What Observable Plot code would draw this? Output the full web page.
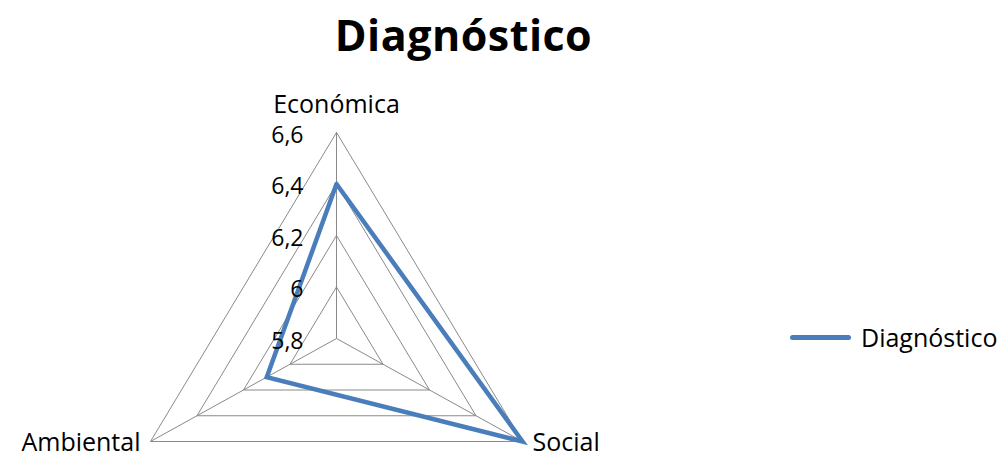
<!DOCTYPE html>
<html><head><meta charset="utf-8">
<script src="https://cdn.jsdelivr.net/npm/d3@7"></script>
<script src="https://cdn.jsdelivr.net/npm/@observablehq/plot@0.6"></script>
<style>
html,body{margin:0;padding:0;background:#fff}
body{width:1001px;height:457px;overflow:hidden;position:relative;font-family:"Open Sans",sans-serif;color:#000}
#title{height:66px;line-height:70px;font-size:43px;font-weight:bold;text-align:center;padding-right:74px;box-sizing:border-box;letter-spacing:0.5px}
#chart svg{display:block;overflow:visible}
#legend{position:absolute;left:790px;top:320px;font-size:25px;display:flex;align-items:center;white-space:nowrap}
#legend .sw{display:inline-block;width:61px;height:5px;border-radius:2.5px;background:#4A7EBB;margin-right:10px}
</style></head><body>
<div id="title">Diagnóstico</div>
<div id="chart"></div>
<div id="legend"><span class="sw"></span><span id="legtext"></span></div>
<script>
// ---- data ----
const categories = ["Económica", "Social", "Ambiental"];
const values = [6.4, 6.6, 6.1];
const seriesName = "Diagnóstico";
const ringTicks = [5.8, 6.0, 6.2, 6.4, 6.6];
const tickLabels = ["5,8", "6", "6,2", "6,4", "6,6"];

// ---- geometry helpers ----
const rMin = ringTicks[0], rMax = ringTicks[ringTicks.length - 1];
const n = categories.length;
const ang = i => i * 2 * Math.PI / n;
const pol = (v, i) => {
  const r = (v - rMin) / (rMax - rMin);
  return {x: r * Math.sin(ang(i)), y: r * Math.cos(ang(i))};
};

const rings = [];
ringTicks.slice(1).forEach(t => {
  for (let k = 0; k <= n; k++) rings.push({ring: t, ...pol(t, k % n)});
});
const spokes = categories.map((c, i) => ({x1: 0, y1: 0, x2: pol(rMax, i).x, y2: pol(rMax, i).y}));
const catLabels = categories.map((c, i) => ({name: c, i, ...pol(rMax, i)}));
const tickPts = ringTicks.map((t, j) => ({label: tickLabels[j], ...pol(t, 0)}));
const series = [];
for (let k = 0; k <= n; k++) series.push({cat: categories[k % n], ...pol(values[k % n], k % n)});

// layout
const W = 1001, H = 391, cx = 336, cy = 272, kx = 214.8, ky = 206;

const plot = Plot.plot({
  width: W, height: H,
  margin: 0,
  x: {domain: [-cx / kx, (W - cx) / kx], range: [0, W], axis: null},
  y: {domain: [-(H - cy) / ky, cy / ky], range: [H, 0], axis: null},
  style: {fontFamily: "'Open Sans', sans-serif", background: "transparent"},
  marks: [
    Plot.line(rings, {x: "x", y: "y", z: "ring", stroke: "#8a8a8a", strokeWidth: 1}),
    Plot.link(spokes, {x1: "x1", y1: "y1", x2: "x2", y2: "y2", stroke: "#8a8a8a", strokeWidth: 1}),
    Plot.line(series, {x: "x", y: "y", stroke: "#4A7EBB", strokeWidth: 4.5, strokeLinejoin: "miter", strokeMiterlimit: 10}),
    Plot.text(tickPts, {x: "x", y: "y", text: "label", textAnchor: "end", dx: -33, dy: 3, fontSize: 23, fill: "#000"}),
    Plot.text(catLabels.filter(d => d.i === 0), {x: "x", y: "y", text: "name", dy: -28, fontSize: 25, fill: "#000"}),
    Plot.text(catLabels.filter(d => d.i === 1), {x: "x", y: "y", text: "name", textAnchor: "start", dx: 10, dy: 1, fontSize: 25, fill: "#000"}),
    Plot.text(catLabels.filter(d => d.i === 2), {x: "x", y: "y", text: "name", textAnchor: "end", dx: -10, dy: 1, fontSize: 25, fill: "#000"})
  ]
});
document.getElementById("chart").appendChild(plot);
document.getElementById("legtext").textContent = seriesName;
</script>
</body></html>
